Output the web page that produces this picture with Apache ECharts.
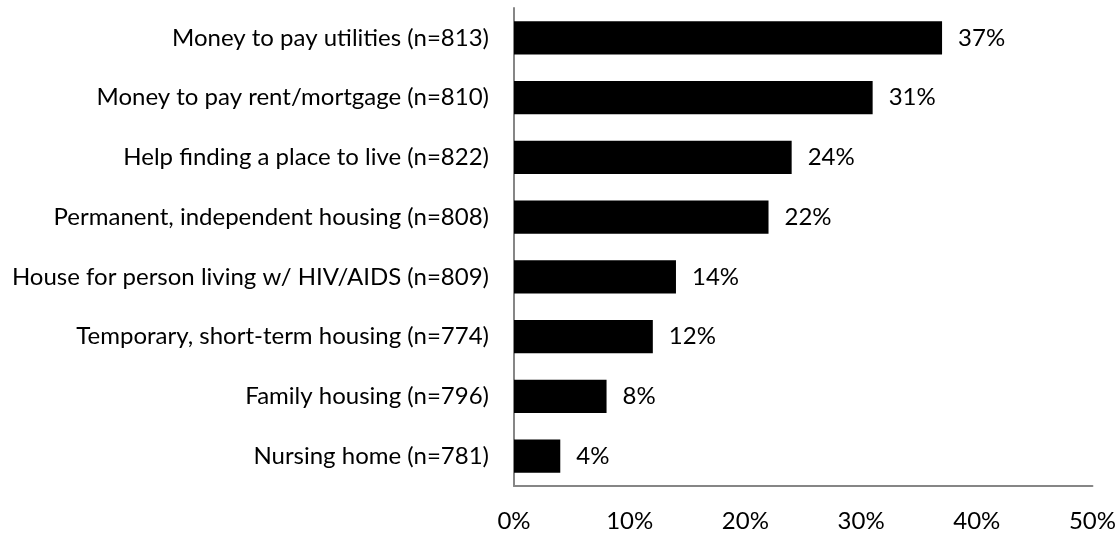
<!DOCTYPE html>
<html>
<head>
<meta charset="utf-8">
<script src="https://cdn.jsdelivr.net/npm/echarts@6/dist/echarts.min.js"></script>
<style>
  html, body { margin: 0; padding: 0; background: #fff; }
  #chart { width: 1119px; height: 535px; }
</style>
</head>
<body>
<div id="chart"></div>
<script>
// Housing needs, share of respondents (%)
const categories = [
  'Money to pay utilities (n=813)',
  'Money to pay rent/mortgage (n=810)',
  'Help finding a place to live (n=822)',
  'Permanent, independent housing (n=808)',
  'House for person living w/ HIV/AIDS (n=809)',
  'Temporary, short-term housing (n=774)',
  'Family housing (n=796)',
  'Nursing home (n=781)'
];
const values = [37, 31, 24, 22, 14, 12, 8, 4];
const xTicks = [0, 10, 20, 30, 40, 50];

const font = 'Lato, "Liberation Sans", sans-serif';
const chart = echarts.init(document.getElementById('chart'));
chart.setOption({
  animation: false,
  grid: { left: 514, right: 20, top: 8, bottom: 49, containLabel: false },
  xAxis: {
    type: 'value',
    min: xTicks[0],
    max: xTicks[xTicks.length - 1],
    interval: xTicks[1] - xTicks[0],
    axisLine: { show: true, lineStyle: { color: '#868686', width: 2 } },
    axisTick: { show: false },
    splitLine: { show: false },
    axisLabel: {
      formatter: v => v + '%',
      color: '#000',
      fontSize: 24,
      fontFamily: font,
      margin: 23
    }
  },
  yAxis: {
    type: 'category',
    data: categories,
    inverse: true,
    axisLine: { show: true, lineStyle: { color: '#868686', width: 2 } },
    axisTick: { show: false },
    axisLabel: {
      color: '#000',
      fontSize: 24,
      fontFamily: font,
      margin: 25
    }
  },
  series: [{
    type: 'bar',
    data: values,
    barCategoryGap: '44%',
    itemStyle: { color: '#000' },
    label: {
      show: true,
      position: 'right',
      distance: 16,
      formatter: p => p.value + '%',
      color: '#000',
      fontSize: 24,
      fontFamily: font
    }
  }]
});
</script>
</body>
</html>
